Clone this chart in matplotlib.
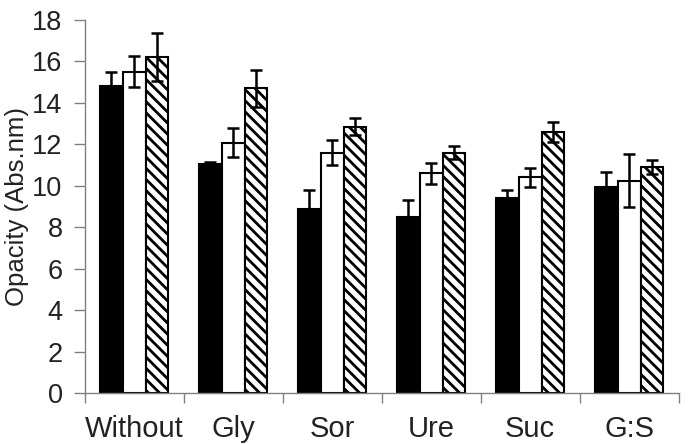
import numpy as np
import matplotlib.pyplot as plt
from matplotlib.ticker import FixedLocator

plt.rcParams['font.family'] = ['Liberation Sans', 'DejaVu Sans']
plt.rcParams['hatch.linewidth'] = 2.0

categories = ['Without', 'Gly', 'Sor', 'Ure', 'Suc', 'G:S']
black_vals = [14.8, 11.05, 8.9, 8.5, 9.4, 9.95]
black_err = [0.7, 0.08, 0.9, 0.8, 0.4, 0.7]
white_vals = [15.5, 12.07, 11.6, 10.6, 10.4, 10.25]
white_err = [0.75, 0.7, 0.6, 0.5, 0.45, 1.3]
hatch_vals = [16.2, 14.7, 12.85, 11.6, 12.6, 10.9]
hatch_err = [1.15, 0.9, 0.4, 0.3, 0.5, 0.35]
yticks = [0, 2, 4, 6, 8, 10, 12, 14, 16, 18]


def main():
    fig = plt.figure(figsize=(6.89, 4.44), dpi=100)
    ax = fig.add_axes([0.123, 0.115, 0.862, 0.84])

    x = np.arange(len(categories))
    w = 0.23
    ekw = dict(ecolor='black', elinewidth=1.8, capsize=4.5, capthick=1.8)

    ax.bar(x - w, black_vals, w, color='black', edgecolor='black', lw=1.5,
           yerr=black_err, error_kw=ekw)
    ax.bar(x, white_vals, w, color='white', edgecolor='black', lw=1.5,
           yerr=white_err, error_kw=ekw)
    ax.bar(x + w, hatch_vals, w, color='white', edgecolor='black', lw=1.5,
           hatch='\\\\\\', yerr=hatch_err, error_kw=ekw)

    ax.set_xlim(-0.5, len(categories) - 0.5)
    ax.set_ylim(0, 18)
    ax.set_yticks(yticks)
    ax.set_xticks(x)
    ax.set_xticklabels(categories)
    ax.xaxis.set_minor_locator(FixedLocator(np.arange(len(categories) + 1) - 0.5))
    ax.tick_params(axis='x', which='major', length=0, pad=16, labelsize=21,
                   labelcolor='#222222')
    ax.tick_params(axis='x', which='minor', length=7, width=1, color='#808080')
    ax.tick_params(axis='y', length=8, width=1, color='#808080', labelsize=19.5,
                   pad=8, labelcolor='#222222')

    for side in ['top', 'right']:
        ax.spines[side].set_visible(False)
    for side in ['left', 'bottom']:
        ax.spines[side].set_color('#808080')
        ax.spines[side].set_linewidth(1)

    ax.set_ylabel('Opacity (Abs.nm)', fontsize=18.5, labelpad=2, color='#222222')

    fig.savefig('out.png', dpi=100)
    plt.close(fig)


if __name__ == '__main__':
    main()
